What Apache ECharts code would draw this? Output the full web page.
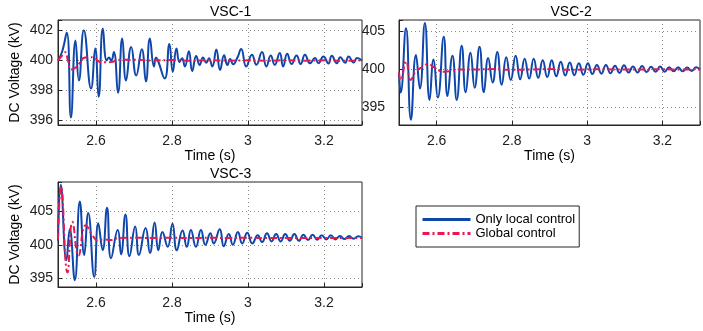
<!DOCTYPE html>
<html><head><meta charset="utf-8">
<script src="https://cdn.jsdelivr.net/npm/echarts@6/dist/echarts.min.js"></script>
<style>html,body{margin:0;padding:0;background:#fff}#c{width:703px;height:331px}</style>
</head><body><div id="c"></div>
<script>
// ---- tick labels ----
const xTickLabels = [2.6, 2.8, 3, 3.2];
const yTicks1 = [396, 398, 400, 402];
const yTicks2 = [395, 400, 405];
const yTicks3 = [395, 400, 405];
const titles = ['VSC-1', 'VSC-2', 'VSC-3'];
const seriesNames = ['Only local control', 'Global control'];

// ---- VSC-1 ----
const v1LocalT = [2.500,2.511,2.523,2.534,2.546,2.555,2.568,2.587,2.598,2.607,2.618,2.628,2.634,2.640,2.647,2.658,2.669,2.679,2.6926,2.7058,2.7205,2.7313,2.7418,2.7525,2.758,2.763,2.7808,2.7932,2.802,2.8118,2.8197,2.8267,2.8338,2.8444,2.8532,2.8637,2.8727,2.8815,2.8903,2.8974,2.9061,2.9167,2.9265,2.9371,2.9458,2.953,2.9609,2.9723,2.982,2.9954,3.0104,3.0219,3.0369,3.0483,3.0598,3.0703,3.0836,3.0925,3.1031,3.1146,3.1278,3.1384,3.1499,3.1631,3.1764,3.1852,3.1985,3.2118,3.2205,3.2338,3.2426,3.2558,3.2647,3.278,3.2868,3.300];
const v1LocalV = [400.0,400.6,401.85,396.2,401.33,398.67,402.0,398.13,400.8,397.58,402.13,400.0,400.2,400.0,400.56,397.85,401.47,398.67,400.9,399.0,400.75,398.6,401.47,399.6,400.2,400.0,398.8,401.1,399.25,400.8,399.9,400.15,399.6,400.62,399.3,400.3,399.7,400.2,399.85,400.15,399.6,400.73,399.36,400.35,399.7,400.1,399.75,400.2,400.76,399.6,400.38,399.71,400.56,399.6,400.33,399.71,400.5,399.6,400.45,399.76,400.33,399.76,400.38,399.82,400.16,399.82,400.27,399.8,400.31,399.82,400.22,399.85,400.27,399.87,400.16,400.0];
const v1GlobalT = [2.500,2.510,2.519,2.526,2.534,2.545,2.556,2.566,2.580,2.595,2.606,2.620,2.640,2.660,2.700,2.750,2.800,2.850,2.900,2.950,3.000,3.050,3.100,3.150,3.200,3.250,3.300];
const v1GlobalV = [400.0,400.3,400.55,400.0,399.4,399.5,399.8,400.15,400.22,400.2,399.95,399.88,399.9,400.05,400.05,400.0,400.03,399.98,400.02,399.99,400.01,399.98,400.02,399.99,400.01,399.98,400.0];

// ---- VSC-2 ----
const v2LocalT = [2.500,2.5045,2.5185,2.5317,2.545,2.5556,2.5688,2.5812,2.5918,2.6032,2.619,2.6288,2.6421,2.6534,2.6667,2.6772,2.690,2.701,2.714,2.7255,2.737,2.749,2.761,2.773,2.785,2.797,2.810,2.822,2.834,2.846,2.858,2.870,2.882,2.894,2.906,2.918,2.930,2.942,2.954,2.966,2.978,2.990,3.002,3.014,3.026,3.038,3.050,3.062,3.074,3.086,3.098,3.110,3.122,3.134,3.146,3.158,3.170,3.182,3.194,3.206,3.218,3.230,3.242,3.254,3.266,3.278,3.290,3.300];
const v2LocalV = [399.5,396.96,405.4,393.4,401.9,397.5,406.1,396.0,401.3,396.3,404.3,396.5,401.8,396.0,403.1,397.0,402.2,397.6,403.0,397.0,401.5,398.3,402.3,398.0,401.6,398.6,401.8,398.7,401.4,398.8,401.4,398.9,401.2,399.0,401.2,399.1,401.0,399.2,400.9,399.25,400.8,399.3,400.8,399.4,400.6,399.45,400.6,399.5,400.5,399.55,400.55,399.6,400.4,399.6,400.45,399.65,400.35,399.7,400.4,399.7,400.3,399.75,400.3,399.75,400.25,399.8,400.3,400.0];
const v2GlobalT = [2.500,2.5045,2.519,2.531,2.545,2.558,2.578,2.592,2.605,2.620,2.640,2.660,2.700,2.750,2.800,2.850,2.900,2.950,3.000,3.050,3.100,3.150,3.200,3.250,3.300];
const v2GlobalV = [399.6,398.6,401.1,398.6,399.8,400.2,400.7,400.3,399.9,399.7,399.8,400.0,400.0,400.05,399.95,400.0,400.05,399.95,400.0,400.02,399.98,400.0,400.02,399.98,400.0];

// ---- VSC-3 ----
const v3LocalT = [2.500,2.5072,2.5222,2.531,2.5442,2.5575,2.5689,2.5795,2.5954,2.606,2.6176,2.629,2.6396,2.6573,2.666,2.6775,2.6881,2.7032,2.713,2.7305,2.742,2.7543,2.7641,2.7747,2.7887,2.8012,2.8126,2.8277,2.839,2.8497,2.8629,2.8762,2.8878,2.901,2.9098,2.9257,2.9363,2.9495,2.9601,2.9734,2.9848,2.998,3.0113,3.0256,3.037,3.050,3.062,3.074,3.086,3.098,3.110,3.122,3.134,3.146,3.158,3.170,3.182,3.194,3.206,3.218,3.230,3.242,3.254,3.266,3.278,3.290,3.300];
const v3LocalV = [400.6,408.9,397.7,402.3,394.75,406.4,398.5,404.7,395.25,403.2,399.2,405.5,398.0,402.2,398.6,404.5,398.3,402.7,398.5,402.5,398.8,403.3,399.2,401.9,399.7,403.1,399.2,402.1,399.7,402.2,399.7,402.2,400.0,401.7,400.2,402.3,399.8,401.6,400.0,401.9,400.2,401.8,400.2,401.4,400.4,401.7,400.5,401.6,400.5,401.6,400.6,401.6,400.6,401.5,400.7,401.5,400.75,401.4,400.8,401.4,400.8,401.3,400.85,401.3,400.9,401.25,401.0];
const v3GlobalT = [2.500,2.508,2.525,2.538,2.554,2.573,2.592,2.606,2.620,2.640,2.660,2.700,2.750,2.800,2.850,2.900,2.950,3.000,3.050,3.100,3.150,3.200,3.250,3.300];
const v3GlobalV = [400.8,408.6,395.9,403.4,398.4,402.9,401.3,400.6,400.8,400.7,401.0,401.05,401.0,401.05,401.0,401.05,401.0,401.05,401.0,401.02,401.0,401.02,401.0,401.0];

const BLUE = '#0f46a9', RED = '#e8194f', AX = '#262626';
const zip = (t, v) => t.map((x, i) => [x, v[i]]);

const grids = [
  {left: 58, top: 20, width: 304, height: 105},
  {left: 399, top: 20, width: 303, height: 105},
  {left: 58, top: 182, width: 304, height: 105}
];
const yRange = [[395.7, 402.7, 4, yTicks1, 5], [392.7, 406.5, 3, yTicks2, 14], [393.75, 409.3, 3, yTicks3, 5]];

const inList = (v, list) => list.some(t => Math.abs(t - v) < 1e-6);

const xAxes = grids.map((g, i) => ({
  type: 'value', gridIndex: i, min: 2.5, max: 3.3, splitNumber: 4,
  name: 'Time (s)', nameLocation: 'middle', nameGap: i === 2 ? 23 : 21,
  nameTextStyle: {fontSize: 14, color: '#000', fontFamily: 'Liberation Sans'},
  axisLine: {show: true, lineStyle: {color: AX, width: 1}},
  axisTick: {show: true, inside: true, length: 4, lineStyle: {color: AX}},
  axisLabel: {fontSize: 14, color: '#222', margin: 9, fontFamily: 'Liberation Sans',
    formatter: v => inList(v, xTickLabels) ? String(+v.toFixed(1)) : ''},
  splitLine: {show: true, lineStyle: {color: '#8a8a8a', type: [1, 3], width: 1}}
}));
const yAxes = grids.map((g, i) => ({
  type: 'value', gridIndex: i, min: yRange[i][0], max: yRange[i][1], splitNumber: yRange[i][2],
  name: i === 1 ? '' : 'DC Voltage (kV)', nameLocation: 'middle', nameGap: 36, nameRotate: 90,
  nameTextStyle: {fontSize: 14, color: '#000', fontFamily: 'Liberation Sans'},
  axisLine: {show: true, lineStyle: {color: AX, width: 1}},
  axisTick: {show: true, inside: true, length: 4, lineStyle: {color: AX}},
  axisLabel: {fontSize: 14, color: '#222', margin: yRange[i][4], fontFamily: 'Liberation Sans',
    formatter: v => inList(v, yRange[i][3]) ? String(Math.round(v)) : ''},
  splitLine: {show: true, lineStyle: {color: '#8a8a8a', type: [1, 3], width: 1}}
}));

const localData = [zip(v1LocalT, v1LocalV), zip(v2LocalT, v2LocalV), zip(v3LocalT, v3LocalV)];
const globalData = [zip(v1GlobalT, v1GlobalV), zip(v2GlobalT, v2GlobalV), zip(v3GlobalT, v3GlobalV)];
const series = [];
for (let i = 0; i < 3; i++) {
  series.push({name: seriesNames[0], type: 'line', xAxisIndex: i, yAxisIndex: i, data: localData[i],
    symbol: 'none', smooth: 0.5, lineStyle: {color: BLUE, width: 2}, itemStyle: {color: BLUE},
    silent: true, animation: false});
  series.push({name: seriesNames[1], type: 'line', xAxisIndex: i, yAxisIndex: i, data: globalData[i],
    symbol: 'none', smooth: 0.5, lineStyle: {color: RED, width: 2, type: [7, 3, 2, 3]}, itemStyle: {color: RED},
    silent: true, animation: false});
}

const graphicTitles = grids.map((g, i) => ({
  type: 'text', left: g.left + g.width / 2, top: g.top - 15,
  style: {text: titles[i], fontSize: 14, fill: '#000', fontFamily: 'Liberation Sans', textAlign: 'center'}
}));

const chart = echarts.init(document.getElementById('c'), null, {renderer: 'canvas'});
chart.setOption({
  animation: false,
  backgroundColor: '#fff',
  grid: grids.map(g => Object.assign({show: true, borderColor: AX, borderWidth: 1, backgroundColor: 'transparent'}, g)),
  xAxis: xAxes,
  yAxis: yAxes,
  series: series,
  legend: {
    data: [{name: seriesNames[0]}, {name: seriesNames[1]}],
    orient: 'vertical', left: 416, top: 206,
    borderColor: AX, borderWidth: 1, padding: [7, 4, 7, 5],
    itemWidth: 48, itemHeight: 14, itemGap: 1,
    itemStyle: {color: 'transparent', borderWidth: 0, opacity: 0},
    lineStyle: {width: 3},
    textStyle: {fontSize: 13, color: '#000', fontFamily: 'Liberation Sans'},
    selectedMode: false
  },
  graphic: graphicTitles
});
</script></body></html>
